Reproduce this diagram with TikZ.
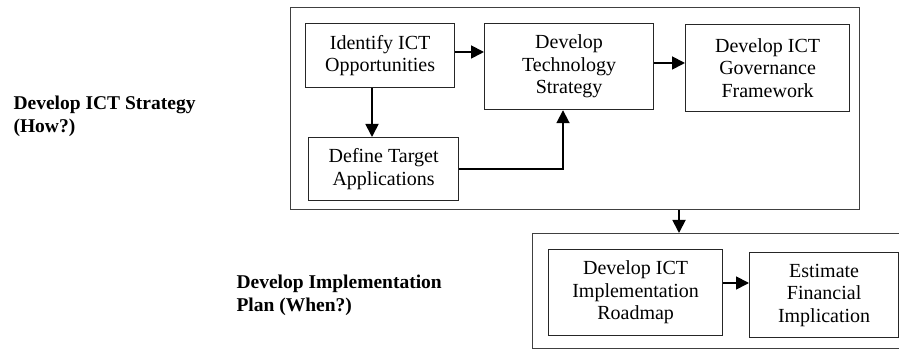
\documentclass[tikz,border=0pt]{standalone}
\usepackage{fontspec}
\setmainfont{Liberation Serif}
\usetikzlibrary{arrows.meta}
\begin{document}
\begin{tikzpicture}[x=1pt,y=1pt,
  box/.style={draw=black!85,line width=1.2pt,align=center,inner sep=0pt,font=\fontsize{20}{22.5}\selectfont},
  frame/.style={draw=black!75,line width=1.2pt},
  arr/.style={-{Triangle[length=13pt,width=13pt]},line width=1.8pt},
  lbl/.style={align=left,anchor=west,font=\fontsize{19.5}{23}\selectfont\bfseries}]
\useasboundingbox (0,0) rectangle (899,350);
% outer frames
\node[frame,minimum width=569pt,minimum height=202pt,anchor=north west] (f1) at (290,343) {};
\node[frame,minimum width=380pt,minimum height=115pt,anchor=north west] (f2) at (532,117) {};
% boxes
\node[box,minimum width=149pt,minimum height=64pt,anchor=north west] (id) at (305,327) {Identify ICT\\Opportunities};
\node[box,minimum width=169pt,minimum height=86pt,anchor=north west] (ts) at (484,327) {Develop\\Technology\\Strategy};
\node[box,minimum width=164pt,minimum height=87pt,anchor=north west] (gf) at (685,326) {Develop ICT\\Governance\\Framework};
\node[box,minimum width=150pt,minimum height=63pt,anchor=north west] (dt) at (308,213) {Define Target\\Applications};
\node[box,minimum width=174pt,minimum height=86pt,anchor=north west] (rm) at (548,101) {Develop ICT\\Implementation\\Roadmap};
\node[box,minimum width=149pt,minimum height=85pt,anchor=north west] (ef) at (749,98) {Estimate\\Financial\\Implication};
% labels
\node[lbl] (l1) at (10,234) {Develop ICT Strategy\\(How?)};
\node[lbl] (l2) at (233,55) {Develop Implementation\\Plan (When?)};
% arrows
\draw[arr] (id.east |- 0,298) -- (ts.west |- 0,298);
\draw[arr] (372,0 |- id.south) -- (372,0 |- dt.north);
\coordinate (c1) at (563,0 |- dt.east);
\draw[arr] (dt.east) -- (c1) -- (ts.south -| c1);
\draw[arr] (ts.east |- 0,287) -- (gf.west |- 0,287);
\draw[arr] (679,0 |- f1.south) -- (679,0 |- f2.north);
\draw[arr] (rm.east |- 0,67) -- (ef.west |- 0,67);
\end{tikzpicture}
\end{document}
